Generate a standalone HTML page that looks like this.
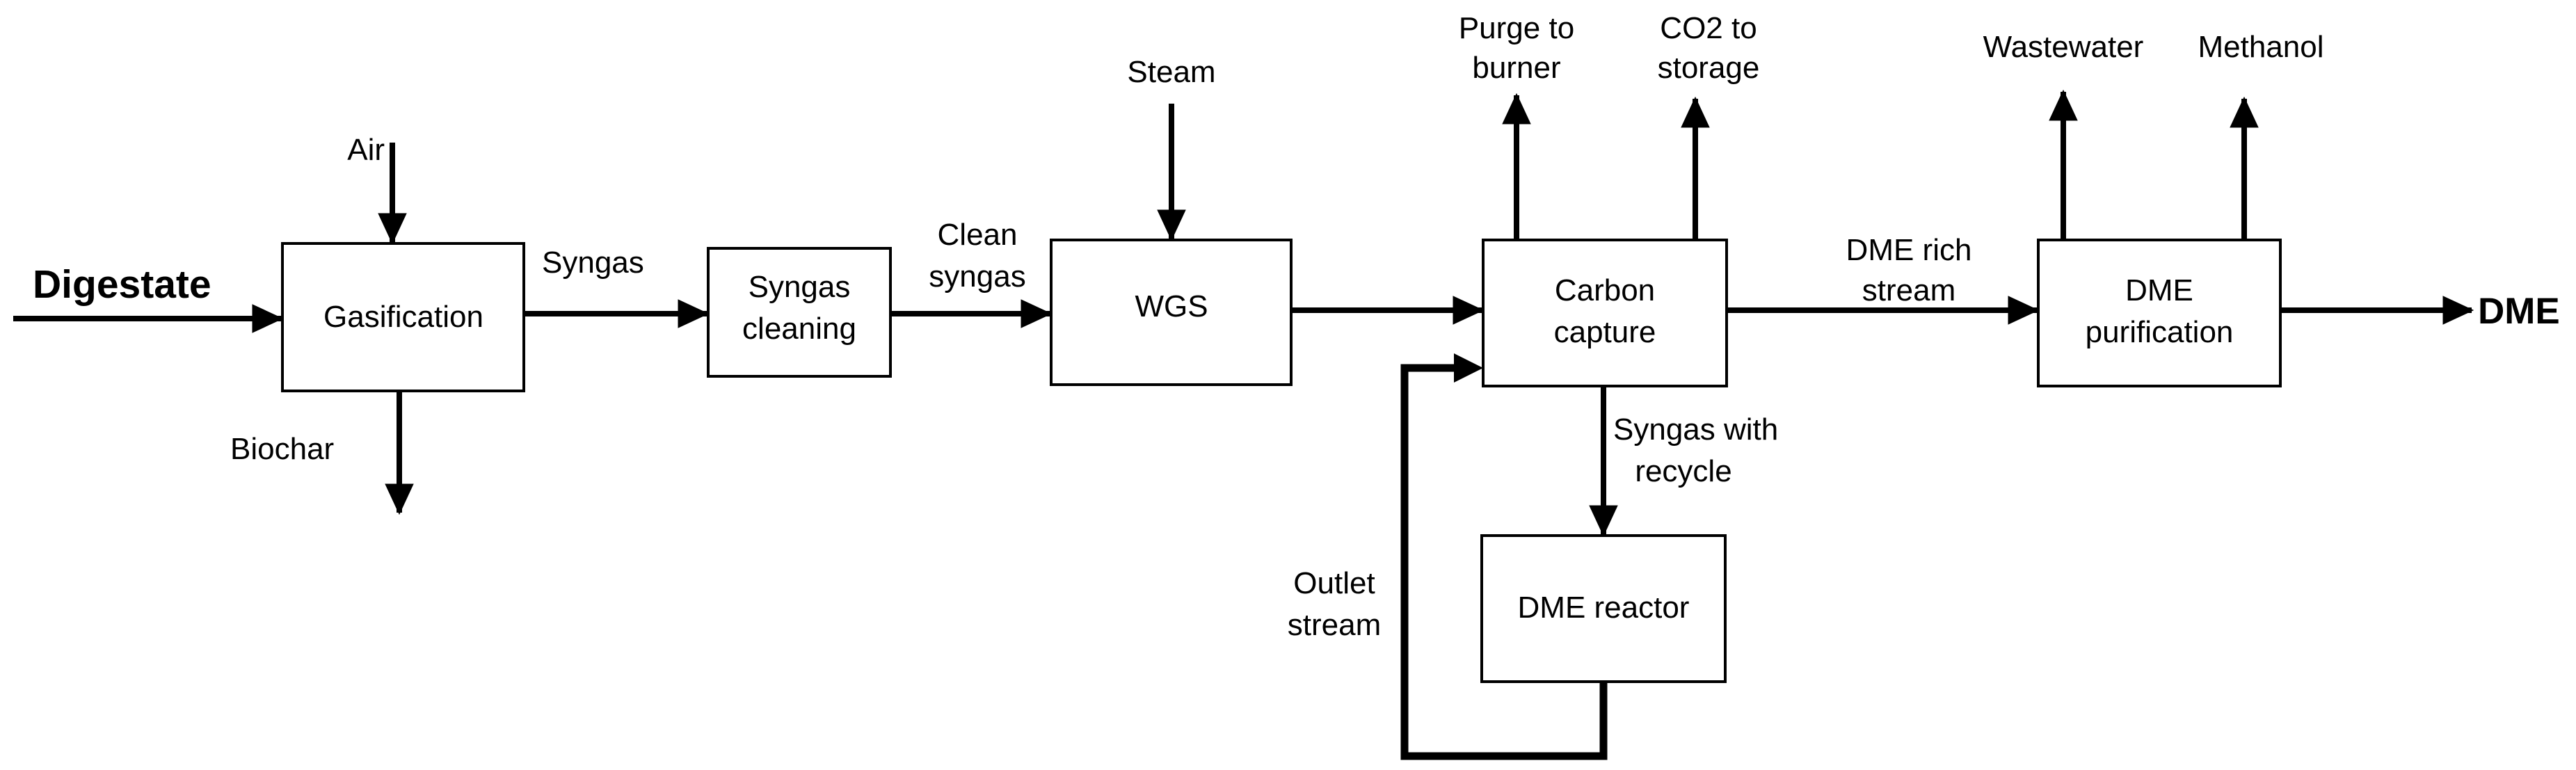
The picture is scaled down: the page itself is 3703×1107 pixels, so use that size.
<!DOCTYPE html>
<html><head><meta charset="utf-8"><style>
html,body{margin:0;padding:0;background:#fff}
svg{display:block}
text{font-family:"Liberation Sans",Arial,sans-serif;font-size:44px;fill:#000}
</style></head><body>
<svg width="3703" height="1107" viewBox="0 0 3703 1107" xmlns="http://www.w3.org/2000/svg">
<defs>
<marker id="a" markerWidth="5.6" markerHeight="5.2" refX="5.2" refY="2.6" orient="auto" markerUnits="strokeWidth"><path d="M0,0 L5.6,2.6 L0,5.2 z" fill="#000"/></marker>
</defs>
<g fill="none" stroke="#000" stroke-width="4">
<rect x="406" y="350" width="347" height="212"/>
<rect x="1018" y="357" width="262" height="184"/>
<rect x="1511" y="345" width="345" height="208"/>
<rect x="2132" y="345" width="350" height="210"/>
<rect x="2930" y="345" width="348" height="210"/>
<rect x="2130" y="770" width="350" height="210"/>
</g>
<g fill="none" stroke="#000" stroke-width="8" marker-end="url(#a)">
<line x1="19" y1="458" x2="404" y2="458"/>
<line x1="564" y1="205" x2="564" y2="348"/>
<line x1="574" y1="562" x2="574" y2="737"/>
<line x1="753" y1="451" x2="1016" y2="451"/>
<line x1="1280" y1="451" x2="1509" y2="451"/>
<line x1="1684" y1="149" x2="1684" y2="343"/>
<line x1="1856" y1="446" x2="2130" y2="446"/>
<line x1="2180" y1="345" x2="2180" y2="137"/>
<line x1="2437" y1="345" x2="2437" y2="142"/>
<line x1="2482" y1="446" x2="2928" y2="446"/>
<line x1="2966" y1="345" x2="2966" y2="132"/>
<line x1="3226" y1="345" x2="3226" y2="142"/>
<line x1="3278" y1="446" x2="3553" y2="446"/>
<line x1="2305" y1="555" x2="2305" y2="768"/>
</g>
<path d="M2305,980 L2305,1087 L2019,1087 L2019,529 L2096,529" fill="none" stroke="#000" stroke-width="11"/>
<path d="M2090,508 L2132,529 L2090,550 z" fill="#000"/>
<text x="47" y="428" style="font-weight:bold;font-size:57px">Digestate</text>
<text x="553" y="230" text-anchor="end">Air</text>
<text x="331" y="660">Biochar</text>
<text x="779" y="392">Syngas</text>
<text x="1405" y="352" text-anchor="middle">Clean</text>
<text x="1405" y="412" text-anchor="middle">syngas</text>
<text x="1684" y="118" text-anchor="middle">Steam</text>
<text x="2180" y="55" text-anchor="middle">Purge to</text>
<text x="2180" y="112" text-anchor="middle">burner</text>
<text x="2456" y="55" text-anchor="middle">CO2 to</text>
<text x="2456" y="112" text-anchor="middle">storage</text>
<text x="2744" y="374" text-anchor="middle">DME rich</text>
<text x="2744" y="432" text-anchor="middle">stream</text>
<text x="2966" y="82" text-anchor="middle">Wastewater</text>
<text x="3250" y="82" text-anchor="middle">Methanol</text>
<text x="3562" y="465" style="font-weight:bold;font-size:53px">DME</text>
<text x="2319" y="632">Syngas with</text>
<text x="2420" y="692" text-anchor="middle">recycle</text>
<text x="1918" y="853" text-anchor="middle">Outlet</text>
<text x="1918" y="913" text-anchor="middle">stream</text>
<text x="580" y="470" text-anchor="middle">Gasification</text>
<text x="1149" y="427" text-anchor="middle">Syngas</text>
<text x="1149" y="487" text-anchor="middle">cleaning</text>
<text x="1684" y="455" text-anchor="middle">WGS</text>
<text x="2307" y="432" text-anchor="middle">Carbon</text>
<text x="2307" y="492" text-anchor="middle">capture</text>
<text x="3104" y="432" text-anchor="middle">DME</text>
<text x="3104" y="492" text-anchor="middle">purification</text>
<text x="2305" y="888" text-anchor="middle">DME reactor</text>
</svg>
</body></html>
